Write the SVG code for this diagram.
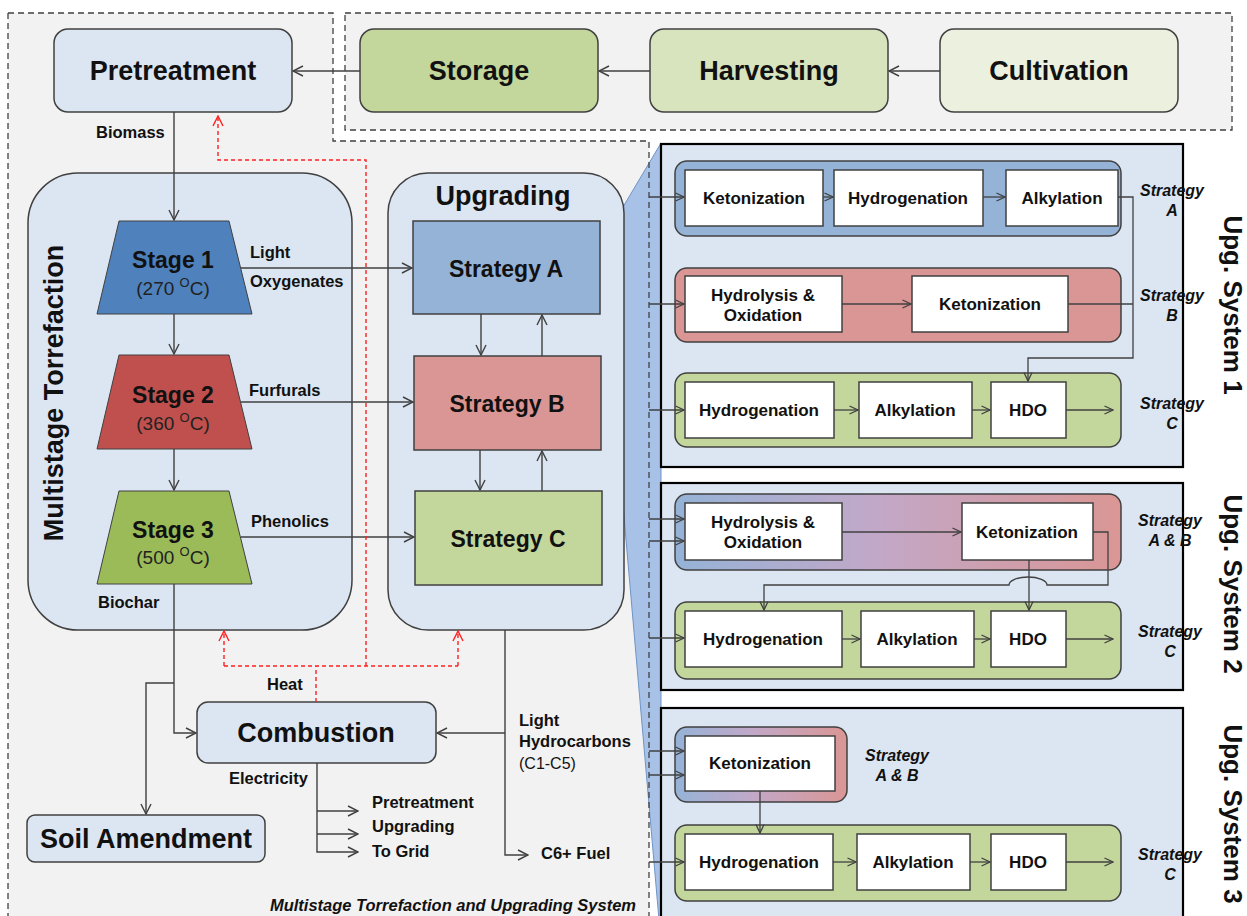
<svg xmlns="http://www.w3.org/2000/svg" width="1247" height="916" viewBox="0 0 1247 916">
  <defs>
    <style>
      text { font-family: "Liberation Sans", Arial, sans-serif; fill: #111; }
      .big { font-size: 27px; font-weight: bold; text-anchor: middle; }
      .stage { font-size: 23px; font-weight: bold; text-anchor: middle; }
      .temp { font-size: 19px; text-anchor: middle; fill: #222; }
      .lbl { font-size: 16.5px; font-weight: bold; }
      .inner { font-size: 17px; font-weight: bold; text-anchor: middle; }
      .strat { font-size: 16px; font-weight: bold; font-style: italic; text-anchor: middle; }
      .sys { font-size: 27px; font-weight: bold; text-anchor: middle; }
      .upg { font-size: 26px; font-weight: bold; text-anchor: middle; }
      .node { stroke: #404040; stroke-width: 1.5; }
      .box { fill: #ffffff; stroke: #404040; stroke-width: 1.5; }
      .lb { fill: #dce6f2; }
      .panel { fill: #dce6f2; stroke: #000; stroke-width: 2.2; }
      .ln { fill: none; stroke: #404040; stroke-width: 1.4; }
      .lna { fill: none; stroke: #404040; stroke-width: 1.4; marker-end: url(#arr); }
      .lns { fill: none; stroke: #404040; stroke-width: 1.3; marker-end: url(#arrs); }
      .red { fill: none; stroke: #ff2020; stroke-width: 1.4; stroke-dasharray: 4 3; }
      .reda { fill: none; stroke: #ff2020; stroke-width: 1.4; stroke-dasharray: 4 3; marker-end: url(#arrRed); }
      .dash { fill: none; stroke: #404040; stroke-width: 1.3; stroke-dasharray: 6 4; }
    </style>
    <marker id="arr" viewBox="0 0 12 12" refX="11" refY="6" markerWidth="12" markerHeight="12" markerUnits="userSpaceOnUse" orient="auto">
      <path d="M1,1 L11,6 L1,11" fill="none" stroke="#404040" stroke-width="1.4"/>
    </marker>
    <marker id="arrs" viewBox="0 0 10 10" refX="9.5" refY="5" markerWidth="10" markerHeight="10" markerUnits="userSpaceOnUse" orient="auto">
      <path d="M1,1 L9.5,5 L1,9" fill="none" stroke="#404040" stroke-width="1.3"/>
    </marker>
    <marker id="arrRed" viewBox="0 0 12 12" refX="11" refY="6" markerWidth="12" markerHeight="12" markerUnits="userSpaceOnUse" orient="auto">
      <path d="M1,1 L11,6 L1,11" fill="none" stroke="#ff2020" stroke-width="1.4"/>
    </marker>
    <linearGradient id="gradAB" x1="0" y1="0" x2="1" y2="0">
      <stop offset="0" stop-color="#95b3d7"/>
      <stop offset="0.45" stop-color="#c2a8c8"/>
      <stop offset="1" stop-color="#da9694"/>
    </linearGradient>
  </defs>

  <rect width="1247" height="916" fill="#ffffff"/>

  <!-- process boundaries -->
  <g id="regions">
    <path d="M8,13 H333 V141 H649 V920 H8 Z" fill="#f2f2f2"/>
    <rect x="345" y="13" width="887" height="117" fill="#f2f2f2"/>
    <!-- zoom wedge from Upgrading to the system panels -->
    <path d="M661,143 L623,207 L623,505 L659,920 L661,920 Z" fill="#a7c2e6" stroke="#6f93c6" stroke-width="1"/>
    <path d="M8,13 H333 V141 H649 V920 M8,13 V920" class="dash"/>
    <rect x="345" y="13" width="887" height="117" class="dash"/>
  </g>

  <!-- supply chain -->
  <g id="pretreatment">
    <rect x="54" y="29" width="238" height="83" rx="14" class="node lb"/>
    <text x="173" y="80" class="big">Pretreatment</text>
  </g>
  <g id="storage">
    <rect x="360" y="29" width="238" height="83" rx="14" class="node" fill="#c3d69b"/>
    <text x="479" y="80" class="big">Storage</text>
  </g>
  <g id="harvesting">
    <rect x="650" y="29" width="238" height="83" rx="14" class="node" fill="#d7e4bd"/>
    <text x="769" y="80" class="big">Harvesting</text>
  </g>
  <g id="cultivation">
    <rect x="940" y="29" width="238" height="83" rx="14" class="node" fill="#ebf1de"/>
    <text x="1059" y="80" class="big">Cultivation</text>
  </g>

  <!-- multistage torrefaction -->
  <g id="torrefaction">
    <rect x="28" y="173" width="324" height="457" rx="50" class="node lb"/>
    <text transform="translate(63,393) rotate(-90)" class="sys">Multistage Torrefaction</text>
  </g>
  <g id="stage1">
    <polygon points="119,221 229,221 252,314 97,314" fill="#4f81bd" stroke="#404040" stroke-width="1"/>
    <text x="173" y="268" class="stage">Stage 1</text>
    <text x="173" y="295" class="temp">(270 <tspan font-size="13" dy="-8">O</tspan><tspan dy="8">C)</tspan></text>
  </g>
  <g id="stage2">
    <polygon points="119,355 229,355 252,449 97,449" fill="#c0504d" stroke="#404040" stroke-width="1"/>
    <text x="173" y="403" class="stage">Stage 2</text>
    <text x="173" y="430" class="temp">(360 <tspan font-size="13" dy="-8">O</tspan><tspan dy="8">C)</tspan></text>
  </g>
  <g id="stage3">
    <polygon points="119,491 229,491 252,584 97,584" fill="#9bbb59" stroke="#404040" stroke-width="1"/>
    <text x="173" y="538" class="stage">Stage 3</text>
    <text x="173" y="564" class="temp">(500 <tspan font-size="13" dy="-8">O</tspan><tspan dy="8">C)</tspan></text>
  </g>

  <!-- upgrading -->
  <g id="upgrading">
    <rect x="388" y="173" width="236" height="457" rx="40" class="node lb"/>
    <text x="503" y="205" class="sys">Upgrading</text>
  </g>
  <g id="strategyA">
    <rect x="413" y="221" width="187" height="93" class="node" fill="#95b3d7"/>
    <text x="506" y="277" class="stage">Strategy A</text>
  </g>
  <g id="strategyB">
    <rect x="414" y="356" width="187" height="94" class="node" fill="#da9694"/>
    <text x="507" y="412" class="stage">Strategy B</text>
  </g>
  <g id="strategyC">
    <rect x="415" y="491" width="187" height="94" class="node" fill="#c3d69b"/>
    <text x="508" y="547" class="stage">Strategy C</text>
  </g>

  <!-- combustion and products -->
  <g id="combustion">
    <rect x="197" y="702" width="239" height="61" rx="11" class="node lb"/>
    <text x="316" y="742" class="big">Combustion</text>
  </g>
  <g id="soil">
    <rect x="27" y="815" width="238" height="47" rx="8" class="node lb"/>
    <text x="146" y="848" class="big">Soil Amendment</text>
  </g>

  <!-- upgrading system 1 -->
  <g id="system1">
    <rect x="661" y="144" width="522" height="323" class="panel"/>
    <text transform="translate(1224,305) rotate(90)" class="upg">Upg. System 1</text>
    <rect x="675" y="161" width="446" height="75" rx="12" class="node" fill="#95b3d7"/>
    <rect x="685" y="170" width="138" height="56" class="box"/>
    <text x="754" y="204" class="inner">Ketonization</text>
    <rect x="834" y="170" width="149" height="56" class="box"/>
    <text x="908" y="204" class="inner">Hydrogenation</text>
    <rect x="1006" y="170" width="112" height="56" class="box"/>
    <text x="1062" y="204" class="inner">Alkylation</text>
    <text x="1172" y="196" class="strat">Strategy</text>
    <text x="1172" y="216" class="strat">A</text>

    <rect x="675" y="268" width="446" height="74" rx="12" class="node" fill="#da9694"/>
    <rect x="685" y="276" width="157" height="56" class="box"/>
    <text x="763" y="301" class="inner">Hydrolysis &amp;</text>
    <text x="763" y="321" class="inner">Oxidation</text>
    <rect x="912" y="276" width="156" height="56" class="box"/>
    <text x="990" y="310" class="inner">Ketonization</text>
    <text x="1172" y="301" class="strat">Strategy</text>
    <text x="1172" y="321" class="strat">B</text>

    <rect x="675" y="373" width="446" height="74" rx="12" class="node" fill="#c3d69b"/>
    <rect x="685" y="382" width="149" height="56" class="box"/>
    <text x="759" y="416" class="inner">Hydrogenation</text>
    <rect x="859" y="382" width="113" height="56" class="box"/>
    <text x="915" y="416" class="inner">Alkylation</text>
    <rect x="991" y="382" width="75" height="56" class="box"/>
    <text x="1028" y="416" class="inner">HDO</text>
    <text x="1172" y="409" class="strat">Strategy</text>
    <text x="1172" y="429" class="strat">C</text>
  </g>

  <!-- upgrading system 2 -->
  <g id="system2">
    <rect x="661" y="483" width="522" height="207" class="panel"/>
    <text transform="translate(1224,584) rotate(90)" class="upg">Upg. System 2</text>
    <rect x="675" y="494" width="446" height="76" rx="12" class="node" fill="url(#gradAB)"/>
    <rect x="685" y="503" width="157" height="57" class="box"/>
    <text x="763" y="528" class="inner">Hydrolysis &amp;</text>
    <text x="763" y="548" class="inner">Oxidation</text>
    <rect x="962" y="503" width="131" height="57" class="box"/>
    <text x="1027" y="538" class="inner">Ketonization</text>
    <text x="1170" y="526" class="strat">Strategy</text>
    <text x="1170" y="546" class="strat">A &amp; B</text>

    <rect x="675" y="602" width="446" height="77" rx="12" class="node" fill="#c3d69b"/>
    <rect x="685" y="611" width="157" height="56" class="box"/>
    <text x="763" y="645" class="inner">Hydrogenation</text>
    <rect x="861" y="611" width="113" height="56" class="box"/>
    <text x="917" y="645" class="inner">Alkylation</text>
    <rect x="991" y="611" width="75" height="56" class="box"/>
    <text x="1028" y="645" class="inner">HDO</text>
    <text x="1170" y="637" class="strat">Strategy</text>
    <text x="1170" y="657" class="strat">C</text>
  </g>

  <!-- upgrading system 3 -->
  <g id="system3">
    <rect x="661" y="708" width="522" height="220" class="panel"/>
    <text transform="translate(1224,814) rotate(90)" class="upg">Upg. System 3</text>
    <rect x="675" y="727" width="172" height="75" rx="12" class="node" fill="url(#gradAB)"/>
    <rect x="685" y="736" width="150" height="55" class="box"/>
    <text x="760" y="769" class="inner">Ketonization</text>
    <text x="897" y="761" class="strat">Strategy</text>
    <text x="897" y="781" class="strat">A &amp; B</text>

    <rect x="675" y="825" width="446" height="76" rx="12" class="node" fill="#c3d69b"/>
    <rect x="685" y="834" width="148" height="56" class="box"/>
    <text x="759" y="868" class="inner">Hydrogenation</text>
    <rect x="857" y="834" width="113" height="56" class="box"/>
    <text x="913" y="868" class="inner">Alkylation</text>
    <rect x="991" y="834" width="75" height="56" class="box"/>
    <text x="1028" y="868" class="inner">HDO</text>
    <text x="1170" y="860" class="strat">Strategy</text>
    <text x="1170" y="880" class="strat">C</text>
  </g>

  <!-- connectors -->
  <g id="connectors">
    <path d="M940,71 H889" class="lna"/>
    <path d="M650,71 H599" class="lna"/>
    <path d="M360,71 H293" class="lna"/>
    <path d="M174,112 V220" class="lna"/>
    <path d="M174,314 V354" class="lna"/>
    <path d="M174,449 V490" class="lna"/>
    <path d="M241,268 H412" class="lna"/>
    <path d="M241,402 H413" class="lna"/>
    <path d="M241,537 H414" class="lna"/>
    <path d="M481,314 V355" class="lna"/>
    <path d="M542,356 V315" class="lna"/>
    <path d="M480,450 V490" class="lna"/>
    <path d="M542,491 V451" class="lna"/>
    <path d="M174,584 V733 H196" class="lna"/>
    <path d="M174,683 H146 V814" class="lna"/>
    <path d="M317,763 V852 H358" class="lna"/>
    <path d="M317,811 H358" class="lna"/>
    <path d="M317,834 H358" class="lna"/>
    <path d="M505,630 V855 H528" class="lna"/>
    <path d="M505,733 H437" class="lna"/>

    <!-- heat recovery -->
    <path d="M316,702 V666" class="red"/>
    <path d="M224,666 H458" class="red"/>
    <path d="M224,666 V631" class="reda"/>
    <path d="M458,666 V631" class="reda"/>
    <path d="M366,666 V160 H218 V116" class="reda"/>

    <!-- feeds into the upgrading systems -->
    <path d="M649,197 H684" class="lns"/>
    <path d="M649,304 H684" class="lns"/>
    <path d="M649,410 H684" class="lns"/>
    <path d="M649,519 H684" class="lns"/>
    <path d="M649,541 H684" class="lns"/>
    <path d="M649,638 H684" class="lns"/>
    <path d="M649,751 H684" class="lns"/>
    <path d="M649,775 H684" class="lns"/>
    <path d="M649,862 H684" class="lns"/>

    <!-- system 1 -->
    <path d="M823,197 H833" class="lns"/>
    <path d="M983,197 H1005" class="lns"/>
    <path d="M842,304 H911" class="lns"/>
    <path d="M834,410 H858" class="lns"/>
    <path d="M972,410 H990" class="lns"/>
    <path d="M1066,410 H1113" class="lns"/>
    <path d="M1118,197 H1133 V358 H1028 V381" class="lns"/>
    <path d="M1068,304 H1133" class="ln"/>

    <!-- system 2 -->
    <path d="M842,532 H961" class="lns"/>
    <path d="M1029,560 V610" class="lns"/>
    <path d="M1093,532 H1108 V585 H1047 A19,8 0 0 0 1009,585 H764 V610" class="lns"/>
    <path d="M842,639 H860" class="lns"/>
    <path d="M974,639 H990" class="lns"/>
    <path d="M1066,639 H1113" class="lns"/>

    <!-- system 3 -->
    <path d="M760,791 V833" class="lns"/>
    <path d="M833,862 H856" class="lns"/>
    <path d="M970,862 H990" class="lns"/>
    <path d="M1066,862 H1113" class="lns"/>
  </g>

  <!-- stream labels -->
  <g id="labels">
    <text x="96" y="138" class="lbl">Biomass</text>
    <text x="250" y="258" class="lbl">Light</text>
    <text x="250" y="287" class="lbl">Oxygenates</text>
    <text x="249" y="396" class="lbl">Furfurals</text>
    <text x="251" y="527" class="lbl">Phenolics</text>
    <text x="98" y="608" class="lbl">Biochar</text>
    <text x="267" y="690" class="lbl">Heat</text>
    <text x="229" y="784" class="lbl">Electricity</text>
    <text x="372" y="808" class="lbl">Pretreatment</text>
    <text x="372" y="832" class="lbl">Upgrading</text>
    <text x="372" y="857" class="lbl">To Grid</text>
    <text x="519" y="726" class="lbl">Light</text>
    <text x="519" y="747" class="lbl">Hydrocarbons</text>
    <text x="519" y="769" font-size="16" fill="#404040">(C1-C5)</text>
    <text x="541" y="859" class="lbl">C6+ Fuel</text>
    <text x="636" y="911" class="lbl" font-style="italic" font-size="16" text-anchor="end">Multistage Torrefaction and Upgrading System</text>
  </g>
</svg>
